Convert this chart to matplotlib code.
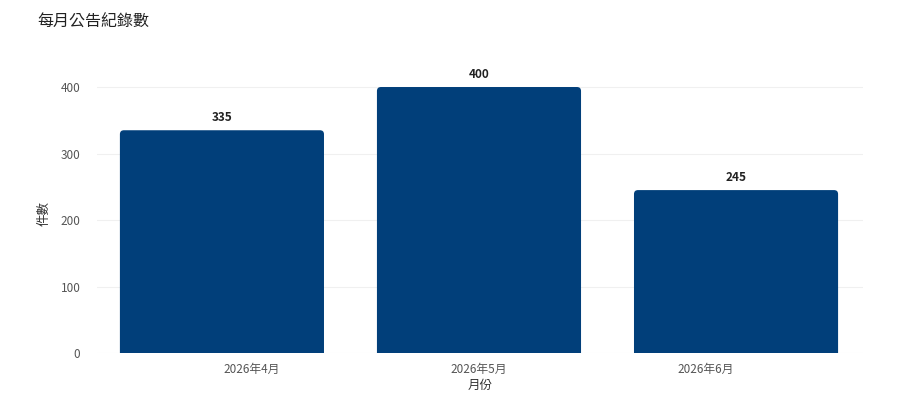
import matplotlib
matplotlib.use("Agg")
import matplotlib.pyplot as plt
from matplotlib.patches import FancyBboxPatch

plt.rcParams['font.family'] = ['Noto Sans CJK TC', 'DejaVu Sans']

months = ["2026年4月", "2026年5月", "2026年6月"]
counts = [335, 400, 245]
# label positions on the date axis (relative to bar slots)
tick_pos = [0.117, 1.0, 1.88]
y_ticks = [0, 100, 200, 300, 400]

BAR_COLOR = "#013f7a"

fig = plt.figure(figsize=(9, 4.16), dpi=100)
ax = fig.add_axes([0.1078, 0.1514, 0.8511, 0.6714])

x = list(range(len(counts)))
bars = ax.bar(x, counts, width=0.794, color=BAR_COLOR)

ax.set_xlim(-0.486, 2.494)
ax.set_ylim(0, 420)

# swap plain bars for ones with rounded top corners
px_x = 1 / 257.0
px_y = 400 / 266.0
for b in bars:
    b.set_visible(False)
    r = 4 * px_x
    patch = FancyBboxPatch((b.get_x(), -20), b.get_width(), b.get_height() + 20,
                           boxstyle=f"round,pad=0,rounding_size={r}",
                           mutation_aspect=px_y / px_x,
                           facecolor=BAR_COLOR, edgecolor="none", clip_on=True)
    ax.add_patch(patch)

for xi, v in zip(x, counts):
    ax.text(xi, v + 13 * px_y, str(v), ha="center", va="center",
            fontsize=8.5, fontweight="bold", color="#222222")

ax.set_yticks(y_ticks)
ax.set_xticks(tick_pos)
ax.set_xticklabels(months)
ax.tick_params(axis="both", length=0, labelsize=8.5, colors="#555555")
ax.tick_params(axis="y", pad=12)
ax.tick_params(axis="x", pad=7)
ax.grid(axis="y", color="#f0f0f0", linewidth=0.8)
ax.set_axisbelow(True)
for s in ax.spines.values():
    s.set_visible(False)

ax.set_xlabel("月份", fontsize=9, color="#333333", labelpad=2)
ax.set_ylabel("件數", fontsize=9, color="#333333", labelpad=7)

fig.text(37 / 900, 1 - 22 / 416, "每月公告紀錄數", fontsize=11.5, color="#222222",
         ha="left", va="center")

fig.savefig("out.png", dpi=100)
